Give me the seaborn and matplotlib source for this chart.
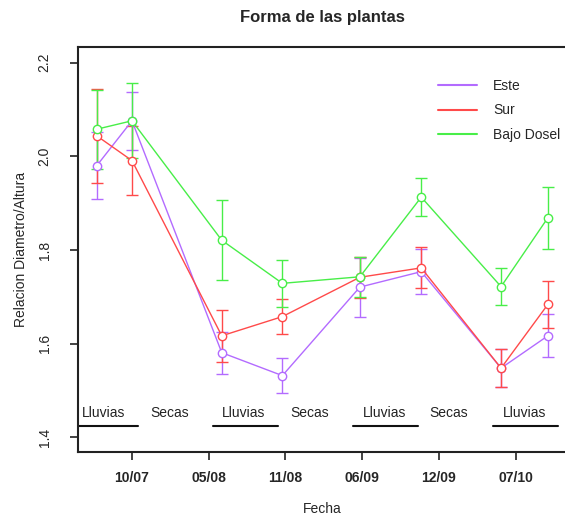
import numpy as np
import pandas as pd
import seaborn as sns
import matplotlib.pyplot as plt
from matplotlib.lines import Line2D

# sampling positions (the dates do not sit on the ticks)
x_pos = [0.54, 1.0, 2.17, 2.96, 3.97, 4.77, 5.81, 6.42]
tick_pos = [1, 2, 3, 4, 5, 6]
tick_labels = ['10/07', '05/08', '11/08', '06/09', '12/09', '07/10']

este = [1.980, 2.076, 1.581, 1.532, 1.721, 1.754, 1.548, 1.617]
este_err = [0.072, 0.062, 0.045, 0.038, 0.063, 0.048, 0.040, 0.046]
sur = [2.044, 1.991, 1.617, 1.658, 1.742, 1.762, 1.548, 1.684]
sur_err = [0.100, 0.074, 0.055, 0.038, 0.044, 0.044, 0.040, 0.050]
bajo = [2.058, 2.076, 1.821, 1.729, 1.743, 1.913, 1.722, 1.869]
bajo_err = [0.084, 0.080, 0.085, 0.050, 0.043, 0.040, 0.040, 0.066]

series = ['Este', 'Sur', 'Bajo Dosel']
colors = {'Este': '#B36BFF', 'Sur': '#FF4A4A', 'Bajo Dosel': '#48EE48'}

# season annotations
season_labels = ['Lluvias', 'Secas', 'Lluvias', 'Secas', 'Lluvias', 'Secas', 'Lluvias']
season_x = [0.635, 1.495, 2.46, 3.32, 4.29, 5.13, 6.11]
rain_start = [0.31, 2.06, 3.88, 5.71]
rain_end = [1.08, 2.90, 4.73, 6.55]

df = pd.DataFrame({
    'x': x_pos * 3,
    'y': este + sur + bajo,
    'err': este_err + sur_err + bajo_err,
    'grupo': np.repeat(series, len(x_pos)),
})

sns.set_style('ticks')
plt.rcParams['font.family'] = ['Liberation Sans', 'DejaVu Sans']

fig = plt.figure(figsize=(5.65, 5.2), dpi=100)
ax = fig.add_axes([0.138, 0.1308, 0.864, 0.7788])

for g in series:
    d = df[df['grupo'] == g]
    ax.errorbar(d['x'], d['y'], yerr=d['err'], fmt='none', ecolor=colors[g],
                elinewidth=1.0, capsize=4.3, capthick=1.0, zorder=2)
    # white-filled circles hide the line inside, like R's type="b"
    sns.lineplot(data=d, x='x', y='y', color=colors[g], lw=1.0, marker='o',
                 markersize=6, markerfacecolor='white', markeredgecolor=colors[g],
                 markeredgewidth=1.0, ax=ax, zorder=3)

for lab, xs in zip(season_labels, season_x):
    ax.text(xs, 1.452, lab, ha='center', va='center', fontsize=10, color='#222222')
for a, b in zip(rain_start, rain_end):
    ax.plot([a, b], [1.4245, 1.4245], color='#111111', lw=1.5)

ax.set_xlim(0.296, 6.658)
ax.set_ylim(1.369, 2.2335)
ax.set_xticks(tick_pos)
ax.set_xticklabels(tick_labels, fontsize=10, fontweight='bold')
ax.set_yticks([1.4, 1.6, 1.8, 2.0, 2.2])
ax.set_yticklabels(['1.4', '1.6', '1.8', '2.0', '2.2'], rotation=90, va='center', fontsize=10)
ax.tick_params(axis='both', length=6, width=1.2, color='#222222')
ax.tick_params(axis='x', pad=8)
ax.tick_params(axis='y', pad=13)
for s in ax.spines.values():
    s.set_linewidth(1.5)
    s.set_color('#222222')

ax.set_xlabel('Fecha', fontsize=10, labelpad=12)
ax.set_ylabel('Relacion Diametro/Altura', fontsize=10, labelpad=7)
ax.set_title('Forma de las plantas', fontsize=12, fontweight='bold', pad=18)

handles = [Line2D([], [], color=colors[g], lw=1.5) for g in series]
ax.legend(handles, series, loc='upper right', bbox_to_anchor=(1.014, 0.952),
          frameon=False, fontsize=10, handlelength=2.8, labelspacing=0.75,
          handletextpad=1.2)

fig.savefig('out.png', dpi=100)
